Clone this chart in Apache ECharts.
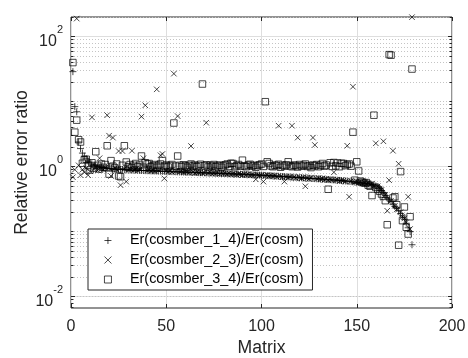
<!DOCTYPE html>
<html><head><meta charset="utf-8">
<script src="https://cdn.jsdelivr.net/npm/echarts@6/dist/echarts.min.js"></script>
<style>html,body{margin:0;padding:0;background:#fff}#c{width:468px;height:358px}</style>
</head><body><div id="c"></div>
<script>
const seriesNames = ['Er(cosmber_1_4)/Er(cosm)', 'Er(cosmber_2_3)/Er(cosm)', 'Er(cosmber_3_4)/Er(cosm)'];

const ratio14 = [
29, 8.4, 7.0, 2.4, 1.9, 1.62, 1.45, 1.32, 1.22, 1.15,
1.1, 1.06, 1.03, 1.0, 0.985, 0.972, 0.961, 0.953, 0.945, 0.938,
0.932, 0.925, 0.921, 0.915, 0.911, 0.906, 0.903, 0.898, 0.894, 0.892,
0.888, 0.886, 0.883, 0.881, 0.88, 0.876, 0.874, 0.873, 0.87, 0.867,
0.866, 0.863, 0.86, 0.859, 0.857, 0.854, 0.853, 0.85, 0.849, 0.846,
0.845, 0.842, 0.84, 0.839, 0.836, 0.833, 0.832, 0.83, 0.827, 0.826,
0.824, 0.821, 0.82, 0.818, 0.815, 0.814, 0.812, 0.809, 0.808, 0.806,
0.803, 0.802, 0.8, 0.797, 0.796, 0.793, 0.792, 0.79, 0.787, 0.786,
0.784, 0.781, 0.78, 0.777, 0.776, 0.773, 0.771, 0.768, 0.767, 0.764,
0.762, 0.759, 0.757, 0.755, 0.751, 0.749, 0.747, 0.744, 0.741, 0.739,
0.736, 0.734, 0.73, 0.727, 0.725, 0.721, 0.718, 0.716, 0.712, 0.709,
0.706, 0.704, 0.7, 0.697, 0.695, 0.691, 0.688, 0.686, 0.682, 0.679,
0.677, 0.673, 0.67, 0.668, 0.664, 0.661, 0.659, 0.655, 0.652, 0.65,
0.646, 0.643, 0.641, 0.637, 0.634, 0.632, 0.628, 0.625, 0.623, 0.619,
0.615, 0.612, 0.607, 0.603, 0.6, 0.595, 0.59, 0.586, 0.58, 0.575,
0.571, 0.565, 0.561, 0.555, 0.55, 0.544, 0.538, 0.53, 0.52, 0.505,
0.49, 0.46, 0.43, 0.4, 0.36, 0.33, 0.31, 0.29, 0.265, 0.245,
0.23, 0.21, 0.19, 0.175, 0.155, 0.135, 0.115, 0.1, 0.063
];

const ratio23 = [
0.69, 0.9, 190, 1.05, 0.74, 0.9, 0.82, 0.95, 0.74, 0.85,
5.75, 0.92, 1.0, 0.88, 1.35, 0.93, 0.9, 0.97, 6.2, 3.0,
0.72, 2.8, 0.95, 0.9, 1.74, 0.52, 1.74, 0.93, 0.59, 0.9,
0.92, 1.76, 0.89, 0.91, 0.88, 0.9, 5.9, 1.35, 8.8, 0.87,
0.9, 0.86, 0.88, 0.85, 15.5, 0.87, 1.5, 1.57, 0.66, 0.86,
0.84, 0.87, 0.83, 27, 0.85, 6.0, 0.83, 0.86, 0.82, 0.84,
0.83, 0.81, 2.08, 0.83, 0.8, 0.82, 0.81, 0.83, 0.79, 0.81,
4.75, 0.8, 0.82, 0.78, 0.8, 0.79, 0.81, 0.77, 0.8, 0.78,
0.79, 0.77, 0.79, 0.76, 0.78, 0.77, 0.75, 0.78, 0.76, 0.74,
0.77, 0.75, 0.76, 0.73, 0.75, 0.74, 0.64, 0.75, 0.73, 0.74,
0.59, 0.73, 0.74, 0.72, 0.73, 0.71, 0.73, 0.7, 4.27, 0.71,
0.69, 0.59, 0.7, 0.68, 0.7, 4.27, 0.69, 0.67, 2.8, 0.68,
0.66, 0.69, 0.5, 0.67, 0.65, 0.68, 2.8, 2.16, 0.65, 0.67,
0.64, 0.66, 0.63, 0.65, 0.62, 0.64, 0.63, 0.82, 0.62, 0.63,
0.6, 0.62, 0.61, 0.59, 2.1, 0.345, 0.6, 17, 0.58, 0.59,
0.57, 0.58, 0.56, 0.57, 0.55, 0.56, 0.53, 0.55, 0.5, 2.29,
0.5, 0.46, 0.44, 2.46, 0.37, 0.21, 0.62, 0.3, 1.76, 0.25,
0.22, 1.11, 0.2, 0.17, 0.16, 0.14, 0.345, 0.11, 200
];

const ratio34 = [
40, 3.4, 5.2, 2.6, 2.4, 1.13, 1.27, 1.3, 1.05, 0.89,
1.15, 0.95, 1.7, 1.05, 0.92, 1.1, 0.98, 1.08, 2.1, 0.77,
1.24, 1.02, 0.96, 1.1, 0.72, 0.7, 1.05, 2.1, 1.18, 1.0,
1.08, 0.97, 1.05, 1.12, 1.0, 1.06, 1.46, 0.98, 1.15, 1.1,
1.12, 1.0, 1.04, 1.08, 0.98, 1.05, 1.1, 1.24, 1.02, 1.06,
0.99, 1.04, 1.08, 4.7, 1.02, 1.46, 1.05, 1.0, 1.07, 1.03,
0.98, 1.05, 1.1, 1.02, 1.06, 1.0, 1.04, 1.09, 18.7, 1.03,
1.07, 0.99, 1.05, 1.02, 1.08, 1.0, 1.04, 1.06, 0.98, 1.03,
1.07, 1.1, 1.01, 1.13, 1.12, 1.0, 1.04, 1.08, 1.02, 1.26,
1.03, 1.0, 1.06, 1.09, 1.02, 1.05, 0.98, 1.04, 1.07, 1.1,
1.01, 10, 1.19, 1.12, 1.03, 1.0, 1.06, 1.04, 1.09, 0.98,
1.05, 1.02, 1.07, 1.19, 1.03, 1.0, 1.06, 1.04, 0.99, 1.08,
1.02, 1.05, 1.1, 1.01, 1.04, 0.97, 1.06, 1.03, 1.08, 1.0,
1.05, 1.12, 1.02, 1.06, 0.45, 1.15, 1.01, 1.16, 1.03, 1.14,
1.0, 1.13, 1.12, 1.04, 1.08, 1.1, 1.02, 3.4, 0.62, 1.19,
0.86, 0.6, 0.58, 0.56, 0.57, 0.52, 0.5, 0.36, 6.2, 0.48,
0.45, 0.42, 0.38, 0.35, 0.3, 0.128, 53, 52, 0.33, 0.345,
0.26, 0.062, 0.84, 0.148, 0.24, 0.117, 0.092, 0.17, 31.8
];

const xTicks = [0, 50, 100, 150, 200];
const yLabelExponents = [-2, 0, 2];
const yMin = 0.0067, yMax = 201;

const FONT = '"Liberation Sans", Arial, Helvetica, sans-serif';
const AX = '#262626';

function toPoints(arr) { return arr.map((v, i) => [i + 1, v]); }

const majorY = yLabelExponents.map(e => Math.pow(10, e));
const minorY = [];
for (let e = -3; e <= 2; e++) {
  for (let m = 1; m <= 9; m++) {
    const v = m * Math.pow(10, e);
    if (v <= yMin || v >= yMax) continue;
    if (m === 1 && yLabelExponents.includes(e)) continue;
    minorY.push(v);
  }
}
const markData = [];
majorY.forEach(v => markData.push({ yAxis: v, lineStyle: { color: '#dedede', type: 'solid', width: 1 } }));
minorY.forEach(v => markData.push({ yAxis: v, lineStyle: { color: '#c4c4c4', type: [1, 2], width: 1 } }));
const tMaj = 2.1, tMin = 1.3;
majorY.forEach(v => {
  markData.push([{ coord: [0, v], lineStyle: { color: AX, type: 'solid', width: 1 } }, { coord: [tMaj, v] }]);
  markData.push([{ coord: [200 - tMaj, v], lineStyle: { color: AX, type: 'solid', width: 1 } }, { coord: [200, v] }]);
});
minorY.forEach(v => {
  markData.push([{ coord: [0, v], lineStyle: { color: AX, type: 'solid', width: 1 } }, { coord: [tMin, v] }]);
  markData.push([{ coord: [200 - tMin, v], lineStyle: { color: AX, type: 'solid', width: 1 } }, { coord: [200, v] }]);
});

const symPlus = 'path://M5,0L5,10M0,5L10,5';
const symCross = 'path://M0,0L10,10M10,0L0,10';
const symSquare = 'path://M0,0L10,0L10,10L0,10Z';
const mkStyle = { color: 'rgba(0,0,0,0)', borderColor: '#000', borderWidth: 0.9 };

const chart = echarts.init(document.getElementById('c'), null, { renderer: 'canvas' });
chart.setOption({
  animation: false,
  backgroundColor: '#fff',
  grid: { left: 71, right: 16, top: 17, bottom: 50, show: true, borderColor: AX, borderWidth: 1, backgroundColor: 'transparent', containLabel: false, outerBoundsMode: 'none' },
  xAxis: [{
    type: 'value', min: xTicks[0], max: xTicks[xTicks.length - 1], interval: 50,
    name: 'Matrix', nameLocation: 'middle', nameGap: 31, nameMoveOverlap: false,
    nameTextStyle: { fontSize: 17.6, color: AX, fontFamily: FONT },
    axisLine: { show: false },
    axisTick: { show: true, inside: true, length: 4, lineStyle: { color: AX } },
    axisLabel: { fontSize: 16, color: AX, fontFamily: FONT, margin: 11 },
    splitLine: { show: true, lineStyle: { color: '#dedede', width: 1 } }
  }, {
    type: 'value', position: 'top', min: 0, max: 200, interval: 50,
    axisLine: { show: false },
    axisTick: { show: true, inside: true, length: 4, lineStyle: { color: AX } },
    axisLabel: { show: false }, splitLine: { show: false }
  }],
  yAxis: {
    type: 'log', logBase: 10, min: yMin, max: yMax, splitNumber: 5,
    name: 'Relative error ratio', nameLocation: 'middle', nameGap: 40, nameRotate: 90, nameMoveOverlap: false,
    nameTextStyle: { fontSize: 17.6, color: AX, fontFamily: FONT },
    axisLine: { show: false }, axisTick: { show: false }, splitLine: { show: false },
    axisLabel: {
      margin: 8, color: AX, fontFamily: FONT,
      formatter: function (v) {
        const l = Math.log10(v), e = Math.round(l);
        if (Math.abs(l - e) > 1e-6 || !yLabelExponents.includes(e)) return '';
        return '{b|10}{s|' + e + '}';
      },
      rich: {
        b: { fontSize: 16, verticalAlign: 'bottom', color: AX, fontFamily: FONT },
        s: { fontSize: 11, lineHeight: 25, verticalAlign: 'top', color: AX, fontFamily: FONT }
      }
    }
  },
  legend: {
    orient: 'vertical', left: 88, top: 229,
    padding: [2.5, 9, 1.5, 16], itemGap: 1.5,
    itemWidth: 34, itemHeight: 7,
    backgroundColor: '#fff', borderColor: AX, borderWidth: 1,
    itemStyle: { color: 'rgba(0,0,0,0)', borderColor: '#000', borderWidth: 0.9 },
    textStyle: { fontSize: 14.4, color: '#000', fontFamily: FONT, lineHeight: 18 },
    data: seriesNames
  },
  series: [
    {
      name: seriesNames[0], type: 'scatter', data: toPoints(ratio14),
      symbol: symPlus, symbolSize: 7, itemStyle: mkStyle, z: 2,
      markLine: { silent: true, symbol: ['none', 'none'], label: { show: false }, z: 1, animation: false, data: markData }
    },
    { name: seriesNames[1], type: 'scatter', data: toPoints(ratio23), symbol: symCross, symbolSize: 5.5, itemStyle: mkStyle, z: 3 },
    { name: seriesNames[2], type: 'scatter', data: toPoints(ratio34), symbol: symSquare, symbolSize: 6.5, itemStyle: mkStyle, z: 4 }
  ]
});
</script>
</body></html>
